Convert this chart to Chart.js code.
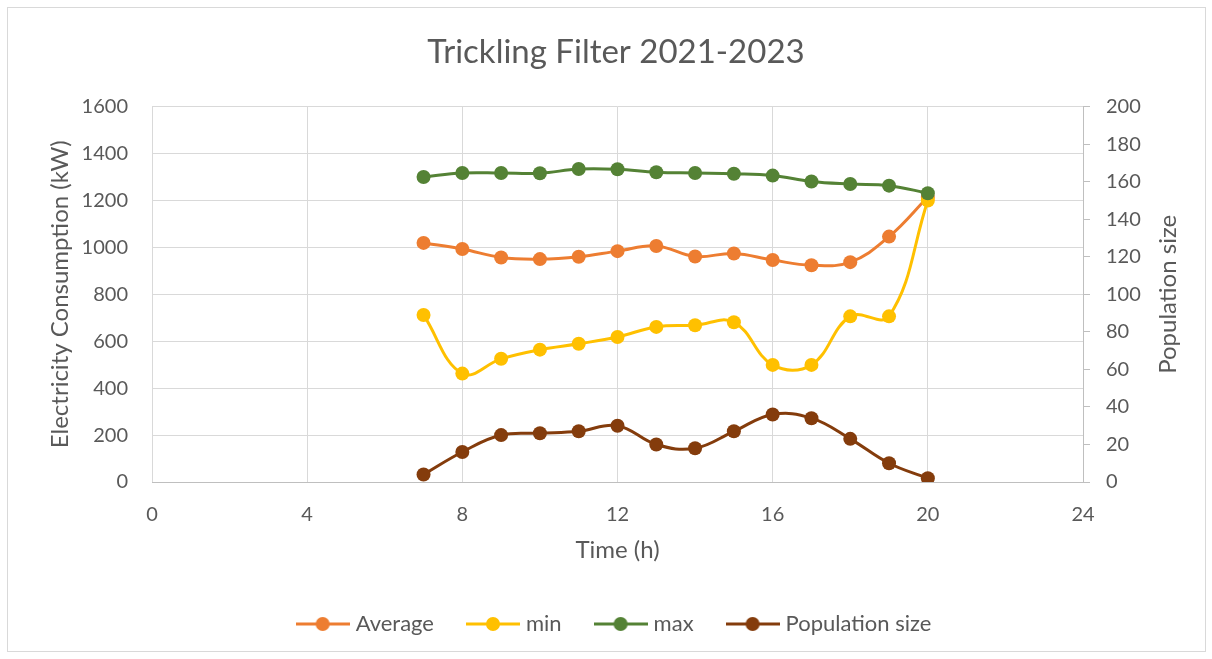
<!DOCTYPE html>
<html>
<head>
<meta charset="utf-8">
<title>Trickling Filter 2021-2023</title>
<script src="https://cdn.jsdelivr.net/npm/chart.js@4.4.1/dist/chart.umd.min.js"></script>
<style>
    body { margin: 0; background: #fff; }
    #wrap { position: relative; width: 1212px; height: 659px; }
    #frame { position: absolute; left: 7px; top: 7px; width: 1197px; height: 643px; border: 1px solid #d9d9d9; pointer-events: none; }
</style>
</head>
<body>
<div id="wrap">
    <canvas id="line_chart" width="1212" height="659"></canvas>
    <div id="frame"></div>
</div>
<script>
// data
const hours = [7, 8, 9, 10, 11, 12, 13, 14, 15, 16, 17, 18, 19, 20];
const average = [1019, 993, 957, 950, 960, 984, 1006, 961, 974, 946, 924, 937, 1046, 1215];
const minimum = [712, 462, 525, 564, 589, 618, 661, 668, 681, 499, 499, 706, 706, 1200];
const maximum = [1300, 1317, 1317, 1316, 1334, 1333, 1320, 1317, 1314, 1306, 1281, 1270, 1263, 1231];
const population = [4, 16, 25, 26, 27, 30, 20, 18, 27, 36, 34, 23, 10, 2];

const xTicks = [0, 4, 8, 12, 16, 20, 24];

const textColor = '#595959';
const gridColor = '#d9d9d9';
const font = 'Lato';

function points(values) {
    return values.map((v, i) => ({ x: hours[i], y: v }));
}

// little line + dot picture for the legend
function legendMark(color) {
    const c = document.createElement('canvas');
    c.width = 54;
    c.height = 16;
    const g = c.getContext('2d');
    g.strokeStyle = color;
    g.lineWidth = 3;
    g.beginPath();
    g.moveTo(0, 8);
    g.lineTo(54, 8);
    g.stroke();
    g.fillStyle = color;
    g.beginPath();
    g.arc(27, 8, 7, 0, Math.PI * 2);
    g.fill();
    return c;
}

function series(label, values, color, axis, order) {
    return {
        label: label,
        data: points(values),
        yAxisID: axis,
        order: order,
        borderColor: color,
        backgroundColor: color,
        borderWidth: 3,
        pointRadius: 7,
        pointHoverRadius: 7,
        pointBorderWidth: 0,
        tension: 0.4
    };
}

// right axis title reads bottom to top like the original
const rightTitle = {
    id: 'rightTitle',
    afterDraw(chart) {
        const ctx = chart.ctx;
        const area = chart.chartArea;
        ctx.save();
        ctx.translate(1168, (area.top + area.bottom) / 2);
        ctx.rotate(-Math.PI / 2);
        ctx.font = '24px ' + font;
        ctx.fillStyle = textColor;
        ctx.textAlign = 'center';
        ctx.textBaseline = 'middle';
        ctx.fillText('Population size', 0, 0);
        ctx.restore();
    }
};

const line_chart = document.getElementById('line_chart').getContext('2d');
new Chart(line_chart, {
    type: 'line',
    data: {
        datasets: [
            series('Average', average, '#ed7d31', 'y', 4),
            series('min', minimum, '#ffc000', 'y', 3),
            series('max', maximum, '#548235', 'y', 2),
            series('Population size', population, '#843c0c', 'y1', 1)
        ]
    },
    options: {
        responsive: false,
        animation: false,
        layout: { padding: { top: 0, left: 20, right: 0, bottom: 14 } },
        plugins: {
            tooltip: { enabled: false },
            title: {
                display: true,
                text: 'Trickling Filter 2021-2023',
                color: textColor,
                font: { family: font, size: 33, weight: 'normal' },
                padding: { top: 33, bottom: 34 }
            },
            legend: {
                position: 'bottom',
                labels: {
                    color: textColor,
                    font: { family: font, size: 22 },
                    usePointStyle: true,
                    pointStyleWidth: 44,
                    padding: 37,
                    sort: (a, b) => a.datasetIndex - b.datasetIndex,
                    generateLabels(chart) {
                        const items = Chart.defaults.plugins.legend.labels.generateLabels(chart);
                        items.forEach(item => {
                            item.pointStyle = legendMark(chart.data.datasets[item.datasetIndex].borderColor);
                        });
                        return items;
                    }
                }
            }
        },
        scales: {
            x: {
                type: 'linear',
                min: 0,
                max: 24,
                afterBuildTicks(scale) {
                    scale.ticks = xTicks.map(v => ({ value: v }));
                },
                afterFit(scale) { scale.height = 94; },
                grid: { color: gridColor, lineWidth: 1, drawTicks: false },
                border: { display: true, color: '#bfbfbf' },
                ticks: { color: textColor, font: { family: font, size: 20 }, padding: 21, maxRotation: 0 },
                title: {
                    display: true,
                    text: 'Time (h)',
                    color: textColor,
                    font: { family: font, size: 24 },
                    padding: { top: 0, bottom: 11 }
                }
            },
            y: {
                position: 'left',
                min: 0,
                max: 1600,
                ticks: {
                    stepSize: 200,
                    color: textColor,
                    font: { family: font, size: 20 },
                    padding: 24,
                    format: { useGrouping: false }
                },
                afterFit(scale) { scale.width = 132; },
                grid: { color: gridColor, lineWidth: 1, drawTicks: false },
                border: { display: false },
                title: {
                    display: true,
                    text: 'Electricity Consumption (kW)',
                    color: textColor,
                    font: { family: font, size: 24 },
                    padding: { top: 26, bottom: 0 }
                }
            },
            y1: {
                position: 'right',
                min: 0,
                max: 200,
                ticks: { stepSize: 20, color: textColor, font: { family: font, size: 20 }, padding: 16 },
                afterFit(scale) { scale.width = 129; },
                grid: { drawOnChartArea: false, drawTicks: true, tickLength: 7, color: '#bfbfbf' },
                border: { display: true, color: '#bfbfbf' }
            }
        }
    },
    plugins: [rightTitle]
});
</script>
</body>
</html>
